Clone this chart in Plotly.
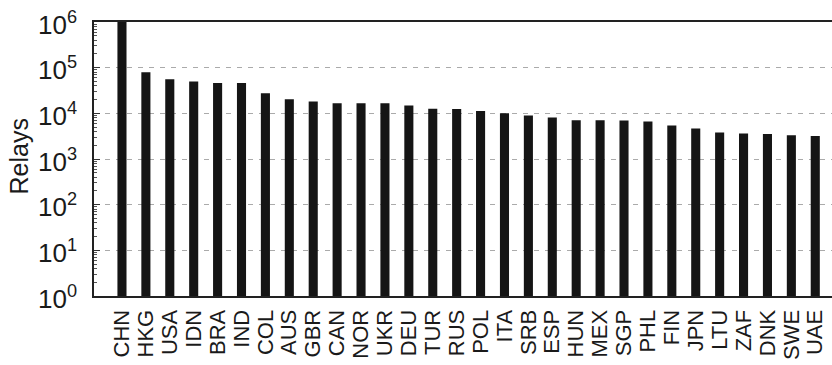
import plotly.graph_objects as go

# Relay counts per country (log scale)
countries = ["CHN", "HKG", "USA", "IDN", "BRA", "IND", "COL", "AUS", "GBR", "CAN",
             "NOR", "UKR", "DEU", "TUR", "RUS", "POL", "ITA", "SRB", "ESP", "HUN",
             "MEX", "SGP", "PHL", "FIN", "JPN", "LTU", "ZAF", "DNK", "SWE", "UAE"]
relays = [1000000, 79000, 56000, 50000, 46000, 46000, 27700, 20400, 18200, 16700,
          16700, 16700, 14900, 12600, 12400, 11200, 10000, 9000, 8100, 7100,
          7100, 7000, 6650, 5430, 4670, 3820, 3630, 3510, 3330, 3170]

# Decade ticks on the y axis
y_exponents = [0, 1, 2, 3, 4, 5, 6]
y_tickvals = [10 ** e for e in y_exponents]
y_ticktext = [f"10<sup>{e}</sup>" for e in y_exponents]

FONT = "Liberation Sans, Arial, Helvetica, sans-serif"
INK = "#1a1a1a"

W, H = 832, 365
L, R, T, B = 94, 0, 22, 69
PW, PH = W - L - R, H - T - B

fig = go.Figure(go.Bar(
    x=list(range(len(countries))),
    y=relays,
    width=0.38,
    marker=dict(color="#151515", line=dict(width=0)),
))

# decade labels, right-aligned a little left of the y axis
for e, txt in zip(y_exponents, y_ticktext):
    fig.add_annotation(
        text=txt, xref="paper", yref="y",
        x=(79 - L) / PW, y=e,
        xanchor="right", yanchor="middle", yshift=-1,
        showarrow=False,
        font=dict(size=26, family=FONT, color=INK),
    )

# y-axis title as a rotated annotation
fig.add_annotation(
    text="Relays", textangle=-90,
    xref="paper", yref="paper",
    x=(18 - L) / PW, y=(H - B - 156.5) / PH,
    xanchor="center", yanchor="middle", showarrow=False,
    font=dict(size=25, family=FONT, color=INK),
)

fig.update_layout(
    width=W, height=H,
    margin=dict(l=L, r=R, t=T, b=B),
    paper_bgcolor="white", plot_bgcolor="white",
    showlegend=False,
    font=dict(family=FONT, color=INK),
    xaxis=dict(
        range=[-1.17, 29.7],
        tickmode="array",
        tickvals=list(range(len(countries))),
        ticktext=countries,
        tickangle=-90,
        tickfont=dict(size=22, family=FONT, color=INK),
        ticks="",
        ticklabelstandoff=3,
        showgrid=False,
        showline=True, linecolor="#222", linewidth=2,
        mirror=True,
        zeroline=False,
    ),
    yaxis=dict(
        type="log",
        range=[0, 6],
        tickmode="array",
        tickvals=y_tickvals,
        showticklabels=False,
        ticks="inside", ticklen=6, tickcolor="#333", tickwidth=1,
        minor=dict(ticks="inside", ticklen=3, tickcolor="#555", tickwidth=1,
                   showgrid=False, dtick="D1"),
        showgrid=True, gridcolor="#aaaaaa", griddash="5px,6px", gridwidth=1,
        showline=True, linecolor="#222", linewidth=2,
        zeroline=False,
    ),
)

fig.write_html("out.html")
